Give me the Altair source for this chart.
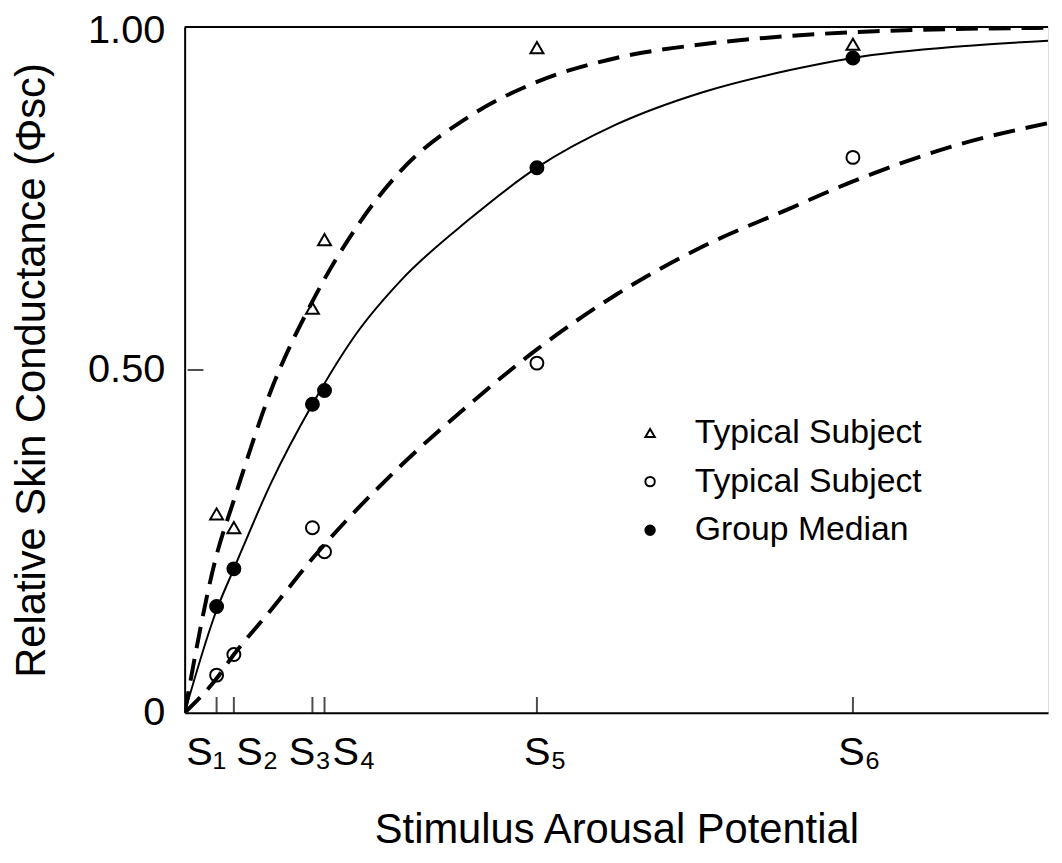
import altair as alt
import pandas as pd

# ---- data ----
stim_labels = ["S₁", "S₂", "S₃", "S₄", "S₅", "S₆"]
stim_x = [3.7, 5.7, 14.8, 16.2, 40.8, 77.4]

typical_a = [0.29, 0.27, 0.59, 0.69, 0.97, 0.975]     # triangles
typical_b = [0.055, 0.085, 0.27, 0.235, 0.51, 0.81]   # open circles
group_median = [0.155, 0.21, 0.45, 0.47, 0.795, 0.955]  # filled circles

curve_a_x = [0, 3.7, 5.7, 10, 14.8, 20, 25, 33, 40.8, 50, 60, 70, 80, 100]
curve_a_y = [0, 0.23, 0.31, 0.47, 0.60, 0.71, 0.79, 0.87, 0.92, 0.955, 0.975, 0.987, 0.994, 0.999]

curve_m_x = [0, 3.7, 5.7, 10, 14.8, 20, 25, 33, 40.8, 50, 60, 70, 77.4, 90, 100]
curve_m_y = [0, 0.15, 0.21, 0.335, 0.45, 0.555, 0.63, 0.72, 0.795, 0.858, 0.905, 0.937, 0.955, 0.972, 0.98]

curve_b_x = [0, 3.7, 5.7, 10, 14.8, 25, 33, 40.8, 50, 60, 70, 77.4, 90, 100]
curve_b_y = [0, 0.05, 0.085, 0.15, 0.225, 0.36, 0.45, 0.53, 0.61, 0.68, 0.735, 0.775, 0.83, 0.86]

y_ticks = [0, 0.5, 1.0]
series_names = ["Typical Subject A", "Typical Subject B", "Group Median"]
legend_labels = ["Typical Subject", "Typical Subject", "Group Median"]

FONT = "Liberation Sans"

pts = pd.DataFrame({
    "x": stim_x * 3,
    "y": typical_a + typical_b + group_median,
    "series": [series_names[0]] * 6 + [series_names[1]] * 6 + [series_names[2]] * 6,
})
ca = pd.DataFrame({"x": curve_a_x, "y": curve_a_y})
cm = pd.DataFrame({"x": curve_m_x, "y": curve_m_y})
cb = pd.DataFrame({"x": curve_b_x, "y": curve_b_y})
ticks_df = pd.DataFrame({"x": stim_x})
leg_df = pd.DataFrame({"series": series_names, "label": legend_labels, "row": [0, 1, 2]})

label_list = "[" + ",".join("'%s'" % s for s in stim_labels) + "]"
value_list = "[" + ",".join(str(v) for v in stim_x) + "]"

label_offsets = [-11, 23, -3, 29, 8, 6]
offset_cond = {
    "condition": [
        {"test": "datum.value == %s" % v, "value": o}
        for v, o in zip(stim_x, label_offsets)
    ],
    "value": 0,
}
y_offset_cond = {"condition": {"test": "datum.value == 1", "value": 4}, "value": 0}

xscale = alt.Scale(domain=[0, 100], nice=False, zero=True)
yscale = alt.Scale(domain=[0, 1], nice=False)
shape_scale = alt.Scale(domain=series_names, range=["triangle-up", "circle", "circle"])
fill_scale = alt.Scale(domain=series_names, range=["transparent", "transparent", "black"])

x_axis = alt.Axis(
    values=stim_x,
    labelExpr="%s[indexof(%s, datum.value)]" % (label_list, value_list),
    labelFont=FONT, labelFontSize=40, labelColor="black",
    labelPadding=20, labelOverlap=False, labelOffset=offset_cond,
    ticks=False, grid=False,
    domainColor="black", domainWidth=2,
    title="Stimulus Arousal Potential", titleFont=FONT, titleFontSize=42,
    titleFontWeight="normal", titleColor="black", titlePadding=38,
)
y_axis = alt.Axis(
    values=y_ticks,
    labelExpr="datum.value == 0 ? '0' : format(datum.value, '.2f')",
    labelFont=FONT, labelFontSize=40, labelColor="black",
    labelPadding=20, labelOverlap=False, labelOffset=y_offset_cond,
    ticks=False, grid=False,
    domainColor="black", domainWidth=2,
    title="Relative Skin Conductance (Φsc)", titleFont=FONT, titleFontSize=42,
    titleFontWeight="normal", titleColor="black", titlePadding=34,
)

base_x = alt.X("x:Q", scale=xscale, axis=x_axis)
base_y = alt.Y("y:Q", scale=yscale, axis=y_axis)

line_a = alt.Chart(ca).mark_line(color="black", strokeWidth=4, strokeDash=[22, 11],
                                 interpolate="monotone", clip=True).encode(x=base_x, y=base_y)
line_m = alt.Chart(cm).mark_line(color="black", strokeWidth=2,
                                 interpolate="monotone", clip=True).encode(x="x:Q", y="y:Q")
line_b = alt.Chart(cb).mark_line(color="black", strokeWidth=4, strokeDash=[22, 11],
                                 interpolate="monotone", clip=True).encode(x="x:Q", y="y:Q")

points = alt.Chart(pts).mark_point(filled=False, stroke="black", strokeWidth=2, size=170, opacity=1).encode(
    x="x:Q", y="y:Q",
    shape=alt.Shape("series:N", scale=shape_scale, legend=None),
    fill=alt.Fill("series:N", scale=fill_scale, legend=None),
)

# hand-built legend (two entries share the same label)
leg_base = alt.Chart(leg_df).transform_calculate(ly="409 + datum.row * 49")
leg_sym = leg_base.mark_point(filled=False, stroke="black", strokeWidth=2, size=90, opacity=1).encode(
    x=alt.value(469), y=alt.Y("ly:Q", scale=None),
    shape=alt.Shape("series:N", scale=shape_scale, legend=None),
    fill=alt.Fill("series:N", scale=fill_scale, legend=None),
)
leg_txt = leg_base.mark_text(align="left", baseline="middle", font=FONT, fontSize=34,
                             color="black").encode(
    x=alt.value(514), y=alt.Y("ly:Q", scale=None), text="label:N")

xticks = alt.Chart(ticks_df).mark_tick(orient="vertical", color="black", thickness=2,
                                       size=16, yOffset=-8).encode(x="x:Q", y=alt.datum(0))
yticks = alt.Chart(pd.DataFrame({"y": [0.5]})).mark_tick(orient="horizontal", color="black",
                                                         thickness=2, size=16, xOffset=11).encode(
    x=alt.datum(0), y="y:Q")
top_rule = alt.Chart(pd.DataFrame({"y": [1.0]})).mark_rule(color="black", strokeWidth=2).encode(y="y:Q")

chart = alt.layer(line_a, line_m, line_b, points, leg_sym, leg_txt, xticks, yticks, top_rule).properties(
    width=870, height=691,
    autosize=alt.AutoSizeParams(type="none"),
    padding={"left": 178, "top": 16, "right": 6, "bottom": 140},
).configure_view(stroke=None).configure(background="white")

chart.save("out.html", embed_options={"renderer": "svg", "actions": False})
